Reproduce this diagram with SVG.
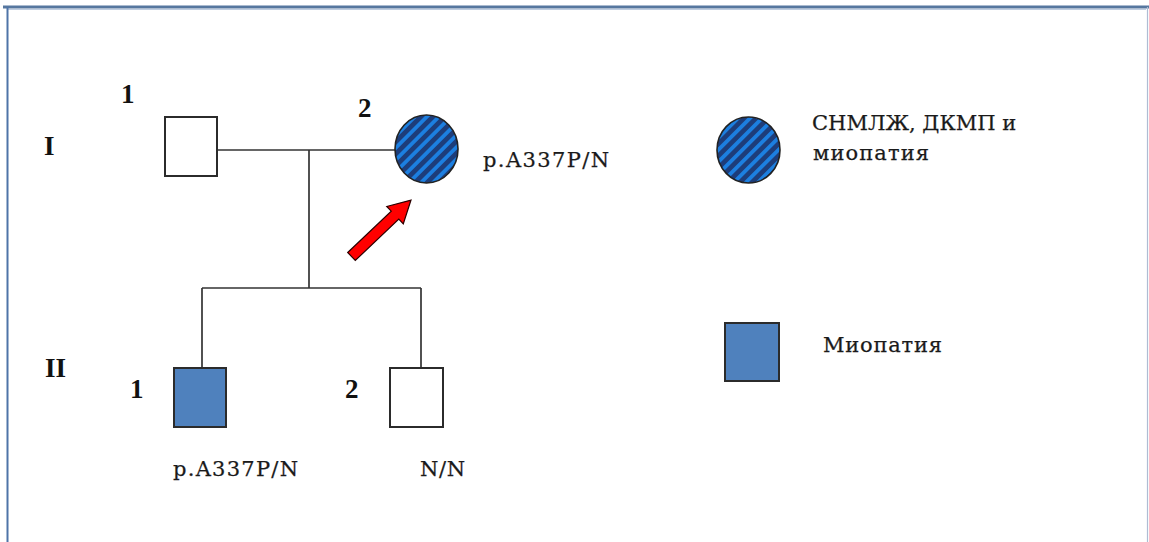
<svg xmlns="http://www.w3.org/2000/svg" width="1149" height="542" viewBox="0 0 1149 542">
  <style>
    .ln { stroke: #333; stroke-width: 1.7; fill: none; }
    .sq { stroke: #2b2b2b; stroke-width: 2; }
    .male-unaff { fill: #ffffff; }
    .aff { fill: #4f81bd; }
    .num { font-family: "Liberation Serif", serif; font-weight: bold; font-size: 27px; fill: #111; }
    .lbl { font-family: "DejaVu Serif", "Liberation Serif", serif; font-size: 21px; fill: #1a1a1a; stroke: #1a1a1a; stroke-width: 0.25; }
  </style>
  <defs>
    <!-- diagonal striped fill for the proband and its legend symbol -->
    <pattern id="hatch" patternUnits="userSpaceOnUse" width="8.5" height="8.5" patternTransform="rotate(45)">
      <rect width="8.5" height="8.5" fill="#1d3d7a"/>
      <rect x="0" y="0" width="3.8" height="8.5" fill="#1c7fe0"/>
    </pattern>
  </defs>

  <rect x="0" y="0" width="1149" height="542" fill="#ffffff"/>

  <!-- frame -->
  <g id="frame">
    <rect x="3" y="5.5" width="1146" height="3" fill="#56779f"/>
    <line x1="8" y1="9.5" x2="1146" y2="9.5" stroke="#bfcde0" stroke-width="1"/>
    <line x1="7.5" y1="7" x2="7.5" y2="542" stroke="#4f74a8" stroke-width="2"/>
    <line x1="1147.5" y1="7" x2="1147.5" y2="542" stroke="#aebdd4" stroke-width="1.2"/>
  </g>

  <!-- generation labels -->
  <g id="gen-I"><text class="num" x="44" y="155">I</text></g>
  <g id="gen-II"><text class="num" x="45" y="377">II</text></g>

  <!-- connectors -->
  <g id="connectors">
    <line class="ln" x1="217" y1="150" x2="396" y2="150"/>
    <line class="ln" x1="309" y1="150" x2="309" y2="288"/>
    <line class="ln" x1="202" y1="288" x2="421" y2="288"/>
    <line class="ln" x1="202" y1="288" x2="202" y2="368"/>
    <line class="ln" x1="421" y1="288" x2="421" y2="368"/>
  </g>

  <!-- generation I -->
  <g id="I-1">
    <text class="num" x="121" y="103">1</text>
    <rect class="sq male-unaff" x="165" y="117" width="52" height="59"/>
  </g>
  <g id="I-2">
    <text class="num" x="358" y="117">2</text>
    <ellipse cx="426.5" cy="149" rx="31.5" ry="34" fill="url(#hatch)" stroke="#222" stroke-width="1.6"/>
    <text class="lbl" x="483" y="167" textLength="126" lengthAdjust="spacing">p.A337P/N</text>
  </g>

  <!-- proband arrow -->
  <g id="proband-arrow">
    <polygon points="0,-5.5 60,-5.5 60,-12 82,0 60,12 60,5.5 0,5.5" transform="translate(351.5,256.5) rotate(-43.5)" fill="#ff0000" stroke="#2a0000" stroke-width="1.2" stroke-linejoin="miter"/>
  </g>

  <!-- generation II -->
  <g id="II-1">
    <text class="num" x="130" y="398">1</text>
    <rect class="sq aff" x="174" y="368" width="52" height="59"/>
    <text class="lbl" x="173" y="476" textLength="125" lengthAdjust="spacing">p.A337P/N</text>
  </g>
  <g id="II-2">
    <text class="num" x="345" y="398">2</text>
    <rect class="sq male-unaff" x="390" y="368" width="53" height="59"/>
    <text class="lbl" x="420" y="476" textLength="45" lengthAdjust="spacing">N/N</text>
  </g>

  <!-- legend -->
  <g id="legend-cardio">
    <ellipse cx="748.5" cy="150" rx="31.5" ry="33" fill="url(#hatch)" stroke="#222" stroke-width="1.6"/>
    <text class="lbl" x="812" y="130">СНМЛЖ, ДКМП и</text>
    <text class="lbl" x="813" y="160" textLength="116" lengthAdjust="spacing">миопатия</text>
  </g>
  <g id="legend-myopathy">
    <rect class="sq aff" x="725" y="323" width="54" height="58"/>
    <text class="lbl" x="823" y="352" textLength="119" lengthAdjust="spacing">Миопатия</text>
  </g>
</svg>
